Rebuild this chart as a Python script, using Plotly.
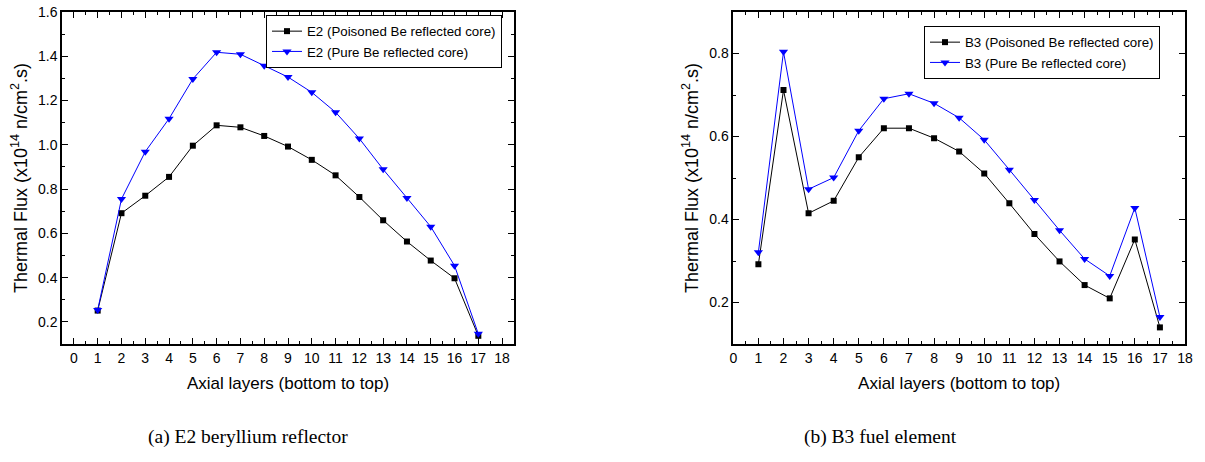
import plotly.graph_objects as go

layers = list(range(1, 18))

e2_poisoned = [0.251, 0.691, 0.770, 0.855, 0.996, 1.088, 1.079, 1.040, 0.992, 0.932,
               0.862, 0.764, 0.659, 0.563, 0.477, 0.397, 0.137]
e2_pure = [0.254, 0.755, 0.969, 1.118, 1.297, 1.418, 1.409, 1.357, 1.306, 1.237,
           1.147, 1.028, 0.889, 0.760, 0.630, 0.454, 0.146]

b3_poisoned = [0.292, 0.712, 0.415, 0.445, 0.550, 0.620, 0.620, 0.596, 0.564, 0.511,
               0.439, 0.365, 0.299, 0.242, 0.210, 0.352, 0.140]
b3_pure = [0.321, 0.804, 0.473, 0.501, 0.614, 0.691, 0.703, 0.680, 0.645, 0.592,
           0.520, 0.447, 0.374, 0.305, 0.264, 0.428, 0.165]

x_ticks = list(range(0, 19))
FONT = "Liberation Sans"
W, H = 1205, 462

def px(x):
    return x / W

def py(y):
    return 1 - y / H

fig = go.Figure()

def add(x, y, name, color, symbol, size, xa, ya, legend):
    fig.add_trace(go.Scatter(
        x=x, y=y, name=name, mode="lines+markers",
        line=dict(color=color, width=1),
        marker=dict(symbol=symbol, size=size, color=color),
        xaxis=xa, yaxis=ya, legend=legend))

add(layers, e2_poisoned, "E2 (Poisoned Be reflected core)", "black", "square", 6, "x", "y", "legend")
add(layers, e2_pure, "E2 (Pure Be reflected core)", "#0000ff", "triangle-down", 8, "x", "y", "legend")
add(layers, b3_poisoned, "B3 (Poisoned Be reflected core)", "black", "square", 6, "x2", "y2", "legend2")
add(layers, b3_pure, "B3 (Pure Be reflected core)", "#0000ff", "triangle-down", 8, "x2", "y2", "legend2")

ytop = py(12)
ybot = py(344)

def xaxis(domain, rng, anchor):
    return dict(domain=domain, range=rng, anchor=anchor, automargin=False,
                tickmode="array", tickvals=x_ticks, ticktext=[str(v) for v in x_ticks],
                ticks="inside", ticklen=6, tickwidth=1, tickcolor="black",
                minor=dict(ticks="inside", ticklen=3, dtick=0.5, tickcolor="black", tick0=0),
                showline=True, linecolor="black", linewidth=1.5, mirror="ticks",
                showgrid=False, zeroline=False, ticklabeloverflow="allow",
                tickfont=dict(family=FONT, size=14, color="black"),
                title=dict(text="Axial layers (bottom to top)", font=dict(family=FONT, size=17, color="black"), standoff=13))

def yaxis(domain, rng, dtick, anchor):
    return dict(domain=domain, range=rng, anchor=anchor, dtick=dtick, tick0=0, automargin=False,
                tickformat=".1f",
                ticks="inside", ticklen=6, tickwidth=1, tickcolor="black",
                minor=dict(ticks="inside", ticklen=3, dtick=dtick / 2, tickcolor="black"),
                showline=True, linecolor="black", linewidth=1.5, mirror="ticks",
                showgrid=False, zeroline=False, ticklabeloverflow="allow",
                tickfont=dict(family=FONT, size=14, color="black"),
                title=dict(text="Thermal Flux (x10<sup>14</sup> n/cm<sup>2</sup>.s)",
                           font=dict(family=FONT, size=18, color="black"), standoff=6))

legend_common = dict(bgcolor="white", bordercolor="black", borderwidth=1,
                     font=dict(family=FONT, size=13.3, color="black"),
                     xanchor="left", yanchor="top", tracegroupgap=0, itemsizing="trace")

fig.update_layout(
    width=W, height=H,
    margin=dict(l=0, r=0, t=0, b=0),
    paper_bgcolor="white", plot_bgcolor="white",
    font=dict(family=FONT, color="black"),
    xaxis=xaxis([px(62), px(514)], [-0.5, 18.5], "y"),
    yaxis=yaxis([ybot, ytop], [0.1, 1.6], 0.2, "x"),
    xaxis2=xaxis([px(733.3), px(1185)], [0, 18], "y2"),
    yaxis2=yaxis([ybot, ytop], [0.1, 0.9], 0.2, "x2"),
    legend=dict(x=px(266), y=py(15), **legend_common),
    legend2=dict(x=px(924), y=py(26), **legend_common),
    annotations=[
        dict(text="(a) E2 beryllium reflector", x=px(248), y=py(437), xref="paper", yref="paper",
             showarrow=False, xanchor="center", yanchor="middle",
             font=dict(family="Liberation Serif", size=19.5, color="black")),
        dict(text="(b) B3 fuel element", x=px(880), y=py(437), xref="paper", yref="paper",
             showarrow=False, xanchor="center", yanchor="middle",
             font=dict(family="Liberation Serif", size=19.5, color="black")),
    ],
)

fig.write_html("out.html", config={"displayModeBar": False},
               post_script="document.body.style.margin='0px';")
